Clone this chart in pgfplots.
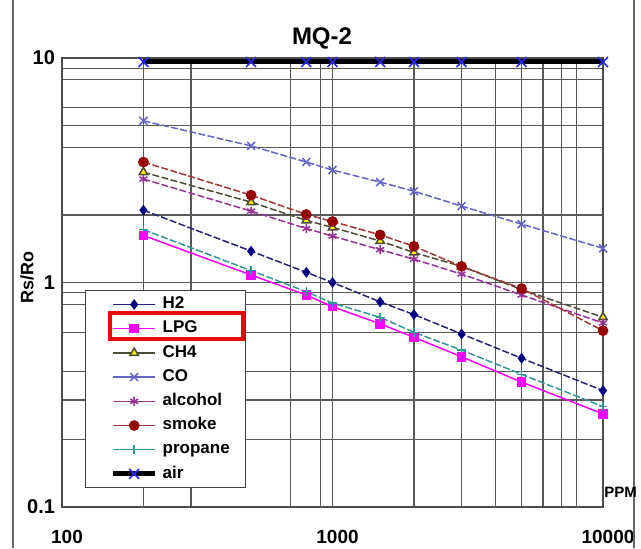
\documentclass[border=0pt]{standalone}
\usepackage{fontspec}
\setmainfont{Liberation Sans}
\usepackage{pgfplots}
\pgfplotsset{compat=1.18}

\definecolor{hcol}{RGB}{35,35,115}
\definecolor{hmark}{RGB}{0,0,128}
\definecolor{lpgcol}{RGB}{255,0,255}
\definecolor{chcol}{RGB}{75,75,55}
\definecolor{cocol}{RGB}{100,100,200}
\definecolor{alccol}{RGB}{150,50,150}
\definecolor{smkcol}{RGB}{160,55,55}
\definecolor{smkmark}{RGB}{150,0,0}
\definecolor{procol}{RGB}{50,150,150}
\definecolor{airmark}{RGB}{40,40,255}
\definecolor{boxred}{RGB}{230,10,10}

\begin{document}
\begin{tikzpicture}
\useasboundingbox (0,0) rectangle (320.5pt,274pt);
\begin{axis}[
    at={(31pt,20.5pt)}, anchor=south west,
    scale only axis,
    width=270.5pt, height=224.5pt,
    xmode=log, ymode=log,
    xmin=100, xmax=10000,
    ymin=0.1, ymax=10,
    xtick={100,1000,10000},
    xticklabels={100,1000,10000},
    ytick={0.1,1,10},
    yticklabels={0.1,1,10},
    minor xtick={200,300,700,900,2000,3000,4000,5000,6000,7000,8000},
    minor ytick={0.2,0.3,0.4,0.6,0.8,0.9,2,4,5,6,8,9},
    grid=both,
    major grid style={black!65, line width=0.6pt},
    minor grid style={black!65, line width=0.6pt},
    major tick length=0pt, minor tick length=0pt,
    axis line style={black!70, line width=0.6pt},
    xticklabel style={font=\bfseries\fontsize{9.5}{11}\selectfont, yshift=-8pt, xshift=2.5pt},
    yticklabel style={font=\bfseries\fontsize{10}{12}\selectfont},
    clip=false,
    legend cell align=left,
    legend image post style={solid},
    legend image code/.code={
        \path (-12.5pt,0pt) (23.5pt,0pt);
        \draw[mark repeat=2,mark phase=2] plot coordinates {(0pt,0pt) (10.5pt,0pt) (21pt,0pt)};
    },
    legend style={
        at={(rel axis cs:0.0425,0.4833)}, anchor=north west,
        draw=black!75, line width=0.7pt, fill=white,
        inner xsep=0pt, inner ysep=2.7pt,
        row sep=3.7pt, column sep=0pt,
        font=\bfseries\fontsize{8.5}{10}\selectfont,
        nodes={inner sep=0pt, text height=6.3pt, text depth=2.1pt},
    },
]

\addplot[hcol, line width=0.75pt, dash pattern=on 3.5pt off 1.2pt,
    mark=diamond*, mark size=2.1pt, mark options={solid, fill=hmark, draw=hmark}]
coordinates {
    (200,2.10) (500,1.38) (800,1.11) (1000,1.00) (1500,0.82)
    (2000,0.72) (3000,0.59) (5000,0.46) (10000,0.33)
};
\addlegendentry{\makebox[41.5pt][l]{H2}}

\addplot[lpgcol, line width=0.75pt,
    mark=square*, mark size=2pt, mark options={solid, fill=lpgcol}]
coordinates {
    (200,1.62) (500,1.08) (800,0.88) (1000,0.78) (1500,0.655)
    (2000,0.57) (3000,0.467) (5000,0.36) (10000,0.26)
};
\addlegendentry{\makebox[41.5pt][l]{LPG}}

\addplot[chcol, line width=0.75pt, dash pattern=on 3.5pt off 1.2pt,
    mark=triangle*, mark size=2.4pt, mark options={solid, fill=yellow, draw=chcol}]
coordinates {
    (200,3.10) (500,2.28) (800,1.89) (1000,1.76) (1500,1.53)
    (2000,1.36) (3000,1.18) (5000,0.93) (10000,0.70)
};
\addlegendentry{\makebox[41.5pt][l]{CH4}}

\addplot[cocol, line width=0.75pt, dash pattern=on 3.5pt off 1.2pt,
    mark=x, mark size=2.8pt, mark options={solid}]
coordinates {
    (200,5.25) (500,4.06) (800,3.44) (1000,3.17) (1500,2.80)
    (2000,2.55) (3000,2.19) (5000,1.82) (10000,1.42)
};
\addlegendentry{\makebox[41.5pt][l]{CO}}

\addplot[alccol, line width=0.75pt, dash pattern=on 3.5pt off 1.2pt,
    mark=asterisk, mark size=2.3pt, mark options={solid}]
coordinates {
    (200,2.89) (500,2.08) (800,1.74) (1000,1.61) (1500,1.40)
    (2000,1.27) (3000,1.09) (5000,0.88) (10000,0.66)
};
\addlegendentry{\makebox[41.5pt][l]{alcohol}}

\addplot[smkcol, line width=0.75pt, dash pattern=on 3.5pt off 1.2pt,
    mark=*, mark size=2.3pt, mark options={solid, fill=smkmark, draw=smkmark}]
coordinates {
    (200,3.44) (500,2.45) (800,2.01) (1000,1.87) (1500,1.63)
    (2000,1.45) (3000,1.18) (5000,0.94) (10000,0.61)
};
\addlegendentry{\makebox[41.5pt][l]{smoke}}

\addplot[procol, line width=0.75pt, dash pattern=on 3.5pt off 1.2pt,
    mark=+, mark size=2.2pt, mark options={solid}]
coordinates {
    (200,1.72) (500,1.13) (800,0.91) (1000,0.81) (1500,0.70)
    (2000,0.60) (3000,0.50) (5000,0.39) (10000,0.28)
};
\addlegendentry{\makebox[41.5pt][l]{propane}}

\addplot[black, line width=2.5pt,
    mark=x, mark size=3.5pt, mark options={solid, draw=airmark, line width=0.8pt}]
coordinates {
    (200,9.6) (500,9.6) (800,9.6) (1000,9.6) (1500,9.6)
    (2000,9.6) (3000,9.6) (5000,9.6) (10000,9.6)
};
\addlegendentry{\makebox[41.5pt][l]{air}}

\end{axis}

\draw[black!60, line width=0.8pt] (6.5pt,0pt) -- (6.5pt,274pt);
\draw[black!60, line width=0.8pt] (317pt,0pt) -- (317pt,274pt);

\node[font=\bfseries\fontsize{12}{14}\selectfont] at (161pt,255pt) {MQ-2};
\node[rotate=90, font=\bfseries\fontsize{9}{10}\selectfont] at (13.5pt,135.5pt) {Rs/Ro};

\node[anchor=west, inner sep=0pt, font=\bfseries\fontsize{7.5}{9}\selectfont] at (302pt,28pt) {PPM};

\draw[boxred, line width=1.75pt] (55pt,104.5pt) rectangle (121.5pt,117.5pt);

\end{tikzpicture}
\end{document}
